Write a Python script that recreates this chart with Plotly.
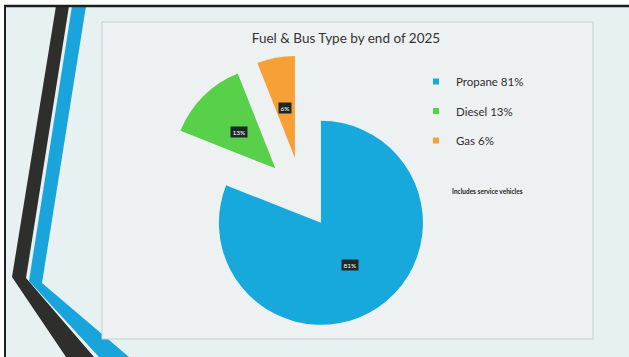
import numpy as np
import plotly.graph_objects as go

W, H = 629, 357

# ---- data ----
fuels = ["Propane", "Diesel", "Gas"]
shares = [81, 13, 6]
legend_labels = ["Propane 81%", "Diesel 13%", "Gas 6%"]
slice_text = ["81%", "13%", "6%"]
title_text = "Fuel & Bus Type by end of 2025"
note_text = "Includes service vehicles"

# ---- style ----
colors = ["#17a8dc", "#58d04a", "#f7a035"]
pulls = [0.33, 0.37, 0.37]
FONT = "Lato"


def px(x):
    return x / W


def py(y):
    return 1 - y / H


# pie geometry (pixels)
cx, cy, r = 302, 195, 102
half = r * (1 + max(pulls))
domain_x = [px(cx - half), px(cx + half)]
domain_y = [py(cy + half), py(cy - half)]

fig = go.Figure()
fig.add_trace(go.Pie(
    labels=legend_labels,
    values=shares,
    sort=False,
    direction="clockwise",
    rotation=0,
    pull=pulls,
    marker=dict(colors=colors, line=dict(width=0)),
    textinfo="none",
    showlegend=False,
    domain=dict(x=domain_x, y=domain_y),
    hovertemplate="%{label}<extra></extra>",
))

# legend entries
for lab, col in zip(legend_labels, colors):
    fig.add_trace(go.Scatter(
        x=[None], y=[None], mode="markers",
        marker=dict(symbol="square", size=6, color=col),
        name=lab, legendgroup=lab, showlegend=True, hoverinfo="skip",
    ))

# slice value labels (dark boxes), placed along each slice bisector
annotations = []
total = sum(shares)
start = 0.0
for v, t, p in zip(shares, slice_text, pulls):
    mid = (start + v / 2) / total * 2 * np.pi
    d = (p + 0.5) * r
    lx = cx + d * np.sin(mid)
    ly = cy - d * np.cos(mid)
    annotations.append(dict(
        x=px(lx), y=py(ly), xref="paper", yref="paper", text=t,
        xanchor="center", yanchor="middle",
        showarrow=False, bgcolor="#1c2727", borderpad=1.5,
        font=dict(family=FONT, size=6.5, color="#ffffff"),
    ))
    start += v

annotations.append(dict(
    x=px(487), y=py(191), xref="paper", yref="paper", text=note_text,
    xanchor="center", yanchor="middle",
    showarrow=False, font=dict(family=FONT, size=6.5, color="#222222", weight="bold"),
))

shapes = [
    # white scan margin
    dict(type="rect", xref="paper", yref="paper", x0=0, x1=1, y0=py(5), y1=1,
         fillcolor="#ffffff", line=dict(width=0), layer="below"),
    dict(type="rect", xref="paper", yref="paper", x0=0, x1=px(4), y0=0, y1=1,
         fillcolor="#ffffff", line=dict(width=0), layer="below"),
    # dark stripe
    dict(type="path", xref="paper", yref="paper", layer="below",
         path=(f"M{px(56)},{py(6)} L{px(69)},{py(6)} L{px(26)},{py(278)} "
               f"L{px(94)},{py(357)} L{px(66)},{py(357)} L{px(12)},{py(277)} Z"),
         fillcolor="#2e2e2c", line=dict(width=0)),
    # blue stripe
    dict(type="path", xref="paper", yref="paper", layer="below",
         path=(f"M{px(72)},{py(6)} L{px(86)},{py(6)} L{px(42)},{py(283)} "
               f"L{px(129)},{py(357)} L{px(99)},{py(357)} L{px(29)},{py(281)} Z"),
         fillcolor="#1aa4dc", line=dict(width=0)),
    # chart panel
    dict(type="rect", xref="paper", yref="paper", layer="below",
         x0=px(102), x1=px(593), y0=py(339), y1=py(22),
         fillcolor="#eef1f1", line=dict(color="#c9cfcf", width=1)),
    # frame lines
    dict(type="line", xref="paper", yref="paper", layer="below",
         x0=px(4), x1=1, y0=py(6), y1=py(6), line=dict(color="#1e1e1e", width=2.5)),
    dict(type="line", xref="paper", yref="paper", layer="below",
         x0=px(5), x1=px(5), y0=py(6), y1=0, line=dict(color="#1e1e1e", width=2)),
]

fig.update_layout(
    width=W, height=H,
    margin=dict(l=0, r=0, t=0, b=0),
    paper_bgcolor="#e8f1f1",
    plot_bgcolor="rgba(0,0,0,0)",
    xaxis=dict(visible=False),
    yaxis=dict(visible=False),
    title=dict(text=title_text, x=px(346), y=py(38), xanchor="center", yanchor="middle",
               font=dict(family=FONT, size=13.5, color="#333333")),
    legend=dict(x=px(416), y=py(67), xanchor="left", yanchor="top",
                bgcolor="rgba(0,0,0,0)", tracegroupgap=10.5, itemwidth=30,
                font=dict(family=FONT, size=11.5, color="#2f2f2f")),
    shapes=shapes,
    annotations=annotations,
)

fig.write_html(
    "out.html",
    config={"displayModeBar": False},
    post_script="document.body.style.margin='0';document.body.style.overflow='hidden';",
)
